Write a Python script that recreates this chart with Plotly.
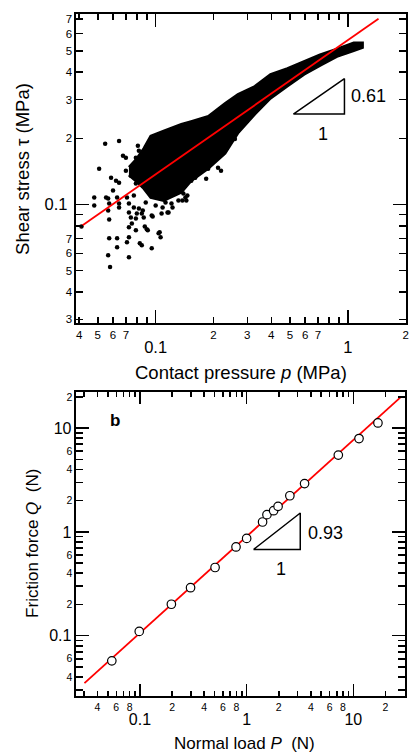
import numpy as np
import plotly.graph_objects as go

# ---------------- Panel (a): shear stress vs contact pressure ----------------
# dense core of the point cloud (upper / lower envelope)
band_p = [0.0726, 0.0789, 0.0867, 0.0942, 0.110, 0.136, 0.153, 0.188, 0.230, 0.268,
          0.328, 0.396, 0.485, 0.593, 0.717, 0.878, 1.074, 1.195]
band_tau_hi = [0.148, 0.160, 0.180, 0.205, 0.216, 0.232, 0.239, 0.252, 0.289, 0.317,
               0.345, 0.391, 0.416, 0.447, 0.481, 0.511, 0.545, 0.545]
band_tau_lo = [0.136, 0.128, 0.1180, 0.1076, 0.1042, 0.1133, 0.128, 0.146, 0.171, 0.211,
               0.257, 0.304, 0.345, 0.391, 0.429, 0.471, 0.501, 0.518]

# scattered individual measurements around the core
scatter_p = [0.0411, 0.0479, 0.0479, 0.0508, 0.0546, 0.0552, 0.0566, 0.0573, 0.0566, 0.0573,
             0.0573, 0.0566, 0.0579, 0.0586, 0.0600, 0.0622, 0.0630, 0.0630, 0.0630, 0.0645,
             0.0645, 0.0645, 0.0645, 0.0676, 0.0700, 0.0700, 0.0709, 0.0709, 0.0726, 0.0726,
             0.0726, 0.0726, 0.0726, 0.0743, 0.0743, 0.0752, 0.0770, 0.0770, 0.0789, 0.0789,
             0.0789, 0.0789, 0.0798, 0.0808, 0.0818, 0.0818, 0.0827, 0.0847, 0.0847, 0.0857,
             0.0857, 0.0867, 0.0878, 0.0888, 0.0888, 0.0899, 0.0910, 0.0942, 0.0954, 0.0954,
             0.0965, 0.1000, 0.1036, 0.1036, 0.1049, 0.1061, 0.1074, 0.1087, 0.1126, 0.1153,
             0.1167, 0.1209, 0.1224, 0.1268, 0.1314, 0.1378, 0.1394, 0.1462, 0.0954, 0.1126,
             0.1360, 0.1428, 0.1445, 0.1533, 0.1607, 0.1876, 0.2112, 0.2189, 0.1832, 0.2585,
             0.1036, 0.1167, 0.1360, 0.1726, 0.1944, 0.2378, 0.2911, 0.0965,
             0.0857, 0.0910, 0.0818, 0.0761, 0.0867, 0.0837, 0.0942, 0.1000, 0.0920, 0.1036]
scatter_tau = [0.0795, 0.1076, 0.0990, 0.1455, 0.1888, 0.1076, 0.1064, 0.1010, 0.0939, 0.0855,
               0.0702, 0.0588, 0.0519, 0.1325, 0.1157, 0.1284, 0.1076, 0.0702, 0.0639, 0.1948,
               0.1257, 0.1010, 0.0969, 0.1666, 0.1632, 0.1425, 0.1076, 0.0673, 0.1010, 0.0920,
               0.0787, 0.0709, 0.0576, 0.1353, 0.0873, 0.0820, 0.1098, 0.0969, 0.1632, 0.1245,
               0.0864, 0.0763, 0.0911, 0.1849, 0.1755, 0.0959, 0.0666, 0.0652, 0.0911, 0.1219,
               0.0939, 0.0873, 0.0795, 0.1666, 0.1021, 0.0771, 0.0763, 0.1121, 0.0892, 0.0632,
               0.0882, 0.0990, 0.1098, 0.0739, 0.0747, 0.0709, 0.0911, 0.0969, 0.1021, 0.0920,
               0.0920, 0.1010, 0.0969, 0.1157, 0.1042, 0.1042, 0.1121, 0.1098, 0.1245, 0.1076,
               0.1157, 0.1076, 0.1042, 0.1284, 0.1325, 0.1455, 0.1470, 0.1425, 0.1311, 0.1989,
               0.2010, 0.2096, 0.2231, 0.2350, 0.2527, 0.2805, 0.3113, 0.2010,
               0.1533, 0.1455, 0.1425, 0.1502, 0.1353, 0.1284, 0.1325, 0.1245, 0.1181, 0.1157]

fit_a_p = [0.0406, 1.445]
fit_a_tau = [0.0792, 0.70]
tri_a_p = [0.521, 0.961, 0.961, 0.521]
tri_a_tau = [0.258, 0.258, 0.374, 0.258]

a_x_minor_vals = [0.04, 0.05, 0.06, 0.07, 0.08, 0.09, 0.2, 0.3, 0.4, 0.5, 0.6, 0.7, 0.8, 0.9, 2]
a_x_minor_text = ['4', '5', '6', '7', '', '', '2', '3', '4', '5', '6', '7', '', '', '2']
a_x_major_vals = [0.1, 1]
a_x_major_text = ['0.1', '1']
a_y_minor_vals = [0.03, 0.04, 0.05, 0.06, 0.07, 0.08, 0.09, 0.2, 0.3, 0.4, 0.5, 0.6, 0.7]
a_y_minor_text = ['3', '4', '5', '6', '7', '', '', '2', '3', '4', '5', '6', '7']
a_y_major_vals = [0.1]
a_y_major_text = ['0.1']

# ---------------- Panel (b): friction force vs normal load ----------------
load_P = [0.0545, 0.0985, 0.197, 0.298, 0.506, 0.795, 1.00, 1.41, 1.55, 1.79,
          1.97, 2.54, 3.49, 7.23, 11.3, 17.0]
friction_Q = [0.0573, 0.110, 0.201, 0.290, 0.454, 0.716, 0.866, 1.246, 1.465, 1.60,
              1.76, 2.23, 2.92, 5.49, 7.93, 11.2]
fit_b_P = [0.0302, 27.8]
fit_b_Q = [0.0349, 19.9]
tri_b_P = [1.16, 3.18, 3.18, 1.16]
tri_b_Q = [0.677, 0.677, 1.52, 0.677]

b_x_minor_vals = [0.03, 0.04, 0.05, 0.06, 0.07, 0.08, 0.09,
                  0.2, 0.3, 0.4, 0.5, 0.6, 0.7, 0.8, 0.9,
                  2, 3, 4, 5, 6, 7, 8, 9, 20, 30]
b_x_minor_text = ['', '4', '', '6', '', '8', '',
                  '2', '', '4', '', '6', '', '8', '',
                  '2', '', '4', '', '6', '', '8', '', '2', '']
b_x_major_vals = [0.1, 1, 10]
b_x_major_text = ['0.1', '1', '10']
b_y_minor_vals = [0.03, 0.04, 0.05, 0.06, 0.07, 0.08, 0.09,
                  0.2, 0.3, 0.4, 0.5, 0.6, 0.7, 0.8, 0.9,
                  2, 3, 4, 5, 6, 7, 8, 9, 20]
b_y_minor_text = ['', '4', '', '6', '', '', '',
                  '2', '', '4', '', '6', '', '', '',
                  '2', '', '4', '', '6', '', '', '', '2']
b_y_major_vals = [0.1, 1, 10]
b_y_major_text = ['0.1', '1', '10']

FONT = "Liberation Sans, Arial, sans-serif"
W, H = 412, 755

fig = go.Figure()

# panel a traces
fig.add_trace(go.Scatter(
    x=band_p + band_p[::-1], y=band_tau_hi + band_tau_lo[::-1],
    mode='lines', fill='toself', fillcolor='black',
    line=dict(color='black', width=2.5), xaxis='x', yaxis='y', hoverinfo='skip'))
fig.add_trace(go.Scatter(
    x=scatter_p, y=scatter_tau, mode='markers',
    marker=dict(color='black', size=4.5), xaxis='x', yaxis='y'))
fig.add_trace(go.Scatter(
    x=fit_a_p, y=fit_a_tau, mode='lines',
    line=dict(color='#ff0000', width=1.8), xaxis='x', yaxis='y'))
fig.add_trace(go.Scatter(
    x=tri_a_p, y=tri_a_tau, mode='lines',
    line=dict(color='black', width=1.5), xaxis='x', yaxis='y'))

# panel b traces
fig.add_trace(go.Scatter(
    x=fit_b_P, y=fit_b_Q, mode='lines',
    line=dict(color='#ff0000', width=1.8), xaxis='x2', yaxis='y2'))
fig.add_trace(go.Scatter(
    x=load_P, y=friction_Q, mode='markers',
    marker=dict(color='white', size=8.5, line=dict(color='black', width=1.2)),
    xaxis='x2', yaxis='y2'))
fig.add_trace(go.Scatter(
    x=tri_b_P, y=tri_b_Q, mode='lines',
    line=dict(color='black', width=1.5), xaxis='x2', yaxis='y2'))

# empty helper traces so that the overlaid decade-tick axes are rendered
for xa, ya in [('x3', 'y'), ('x', 'y3'), ('x4', 'y2'), ('x2', 'y4')]:
    fig.add_trace(go.Scatter(x=[None], y=[None], mode='markers', xaxis=xa, yaxis=ya,
                             hoverinfo='skip', showlegend=False))

ax_common = dict(type='log', showgrid=False, zeroline=False, ticks='inside',
                 tickcolor='black', tickwidth=1.5, color='black')

xa_dom = [77 / W, 409 / W]
ya_dom = [(H - 323) / H, (H - 12.5) / H]
xb_dom = [77 / W, 408 / W]
yb_dom = [(H - 698) / H, (H - 392) / H]

xa_range = [np.log10(0.0387), np.log10(2.01)]
ya_range = [np.log10(0.0288), np.log10(0.733)]
xb_range = [np.log10(0.0254), np.log10(30.5)]
yb_range = [np.log10(0.0261), np.log10(22.3)]

fig.update_layout(
    width=W, height=H, margin=dict(l=0, r=0, t=0, b=0),
    paper_bgcolor='white', plot_bgcolor='white', showlegend=False,
    font=dict(family=FONT, color='black'),
    xaxis=dict(**ax_common, domain=xa_dom, anchor='y', range=xa_range,
               showline=True, linewidth=2, linecolor='black', mirror='ticks',
               tickvals=a_x_minor_vals, ticktext=a_x_minor_text, ticklen=6,
               tickfont=dict(size=11.5, family=FONT)),
    xaxis3=dict(**ax_common, overlaying='x', anchor='y', range=xa_range, side='bottom',
                showline=False, mirror='ticks',
                tickvals=a_x_major_vals, ticktext=a_x_major_text, ticklen=13,
                ticklabelstandoff=12, tickfont=dict(size=16.5, family=FONT)),
    yaxis=dict(**ax_common, domain=ya_dom, anchor='x', range=ya_range,
               showline=True, linewidth=2, linecolor='black', mirror='ticks',
               tickvals=a_y_minor_vals, ticktext=a_y_minor_text, ticklen=7,
               tickfont=dict(size=11.5, family=FONT)),
    yaxis3=dict(**ax_common, overlaying='y', anchor='x', range=ya_range, side='left',
                showline=False, mirror='ticks',
                tickvals=a_y_major_vals, ticktext=a_y_major_text, ticklen=13,
                ticklabelstandoff=8, tickfont=dict(size=16.5, family=FONT)),
    xaxis2=dict(**ax_common, domain=xb_dom, anchor='y2', range=xb_range,
                showline=True, linewidth=2, linecolor='black', mirror='ticks',
                tickvals=b_x_minor_vals, ticktext=b_x_minor_text, ticklen=5,
                tickfont=dict(size=10.5, family=FONT)),
    xaxis4=dict(**ax_common, overlaying='x2', anchor='y2', range=xb_range, side='bottom',
                showline=False, mirror='ticks',
                tickvals=b_x_major_vals, ticktext=b_x_major_text, ticklen=12,
                ticklabelstandoff=12, tickfont=dict(size=16, family=FONT)),
    yaxis2=dict(**ax_common, domain=yb_dom, anchor='x2', range=yb_range,
                showline=True, linewidth=2, linecolor='black', mirror='ticks',
                tickvals=b_y_minor_vals, ticktext=b_y_minor_text, ticklen=7,
                tickfont=dict(size=10.5, family=FONT)),
    yaxis4=dict(**ax_common, overlaying='y2', anchor='x2', range=yb_range, side='left',
                showline=False, mirror='ticks',
                tickvals=b_y_major_vals, ticktext=b_y_major_text, ticklen=13,
                ticklabelstandoff=4, tickfont=dict(size=16, family=FONT)),
)

def ann(text, x, y, size, xref='paper', yref='paper', angle=0, xanchor='center'):
    return dict(text=text, x=x, y=y, xref=xref, yref=yref, textangle=angle,
                xanchor=xanchor, yanchor='middle', showarrow=False,
                font=dict(size=size, family=FONT, color='black'))

annotations = [
    ann('Contact pressure <i>p</i> (MPa)', 243 / W, (H - 372) / H, 18.5),
    ann('Shear stress \u03c4 (MPa)', 22.5 / W, (H - 167.5) / H, 18.5, angle=-90),
    ann('Normal load <i>P</i>&nbsp; (N)', 246.5 / W, (H - 745) / H, 17),
    ann('Friction force <i>Q</i>&nbsp; (N)', 32 / W, (H - 544) / H, 17, angle=-90),
    ann('<b>b</b>', 116 / W, (H - 421) / H, 17),
    ann('0.61', np.log10(1.02), np.log10(0.313), 18, 'x', 'y', xanchor='left'),
    ann('1', np.log10(0.743), np.log10(0.2088), 18, 'x', 'y'),
    ann('0.93', np.log10(3.59), np.log10(0.978), 18, 'x2', 'y2', xanchor='left'),
    ann('1', np.log10(2.117), np.log10(0.4427), 18, 'x2', 'y2'),
]
fig.update_layout(annotations=annotations)

fig.write_html("out.html",
               config={'displayModeBar': False, 'staticPlot': True},
               post_script="document.body.style.margin='0';document.body.style.overflow='hidden';")
